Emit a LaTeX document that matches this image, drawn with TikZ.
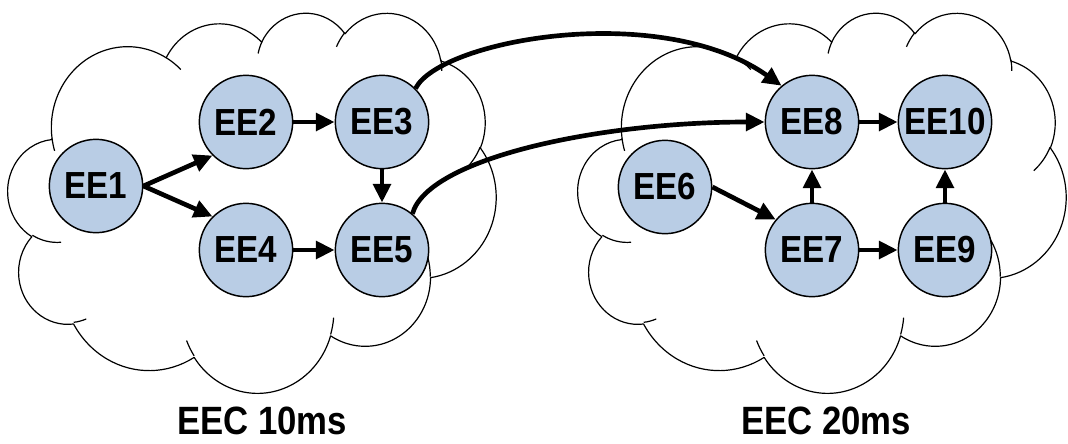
\documentclass[tikz,border=0pt]{standalone}
\usepackage{fontspec}
\newfontfamily\lblfont{Liberation Sans}[FakeStretch=0.88]
\usetikzlibrary{arrows.meta}
\definecolor{eefill}{HTML}{B9CDE5}
% PowerPoint-style cloud arcs (visual angles converted to parametric)
\newcommand\cldmk[5]{%
  \pgfmathsetmacro\cldS{atan2((#2)*sin(#4),(#3)*cos(#4))}%
  \pgfmathsetmacro\cldE{atan2((#2)*sin((#4)+(#5)),(#3)*cos((#4)+(#5)))}%
  \pgfmathsetmacro\cldE{\cldE<\cldS ? \cldE+360 : \cldE}%
  \expandafter\xdef\csname cldarc#1\endcsname{arc[start angle=\cldS, end angle=\cldE, x radius=#2, y radius=#3]}%
}
\cldmk{A}{67.53}{91.90}{-190.4875}{123.7805}
\cldmk{B}{53.33}{72.67}{-144.1024}{89.9452}
\cldmk{C}{43.65}{59.45}{-145.8079}{99.7230}
\cldmk{D}{48.57}{65.95}{-130.9861}{117.2417}
\cldmk{E}{53.33}{72.73}{-78.7089}{109.0269}
\cldmk{F}{67.75}{92.20}{-46.2673}{130.2690}
\cldmk{G}{57.85}{78.67}{0.6250}{114.0333}
\cldmk{H}{67.52}{92.15}{22.4516}{115.1726}
\cldmk{I}{77.20}{105.43}{66.2426}{75.7110}
\cldmk{J}{43.60}{59.18}{-274.9421}{146.7356}
\cldmk{K}{43.45}{59.45}{-246.8285}{152.5189}
\cldmk{a}{43.45}{59.45}{86.7420}{26.4295}
\cldmk{b}{43.60}{59.18}{73.6105}{11.4475}
\cldmk{c}{67.52}{92.15}{137.6242}{14.0811}
\cldmk{d}{67.52}{92.15}{6.4533}{15.9984}
\cldmk{e}{57.85}{78.67}{-70.2924}{70.9174}
\cldmk{f}{53.33}{72.73}{30.3180}{27.7515}
\cldmk{g}{48.57}{65.95}{-13.7443}{14.8589}
\cldmk{h}{48.57}{65.95}{-149.1815}{18.1954}
\cldmk{i}{43.65}{59.45}{-163.4943}{17.6864}
\cldmk{j}{67.53}{91.90}{-66.7070}{12.3194}
\cldmk{k}{67.53}{91.90}{157.6544}{11.8582}
\newcommand\cloudshape{%
  \draw[cloudline, fill=white] (39.00,143.70) \cldarcA \cldarcB \cldarcC \cldarcD
    \cldarcE \cldarcF \cldarcG \cldarcH \cldarcI \cldarcJ \cldarcK -- cycle;
  \draw[cloudline] (46.93,261.77) \cldarca;
  \draw[cloudline] (69.28,348.99) \cldarcb;
  \draw[cloudline] (164.78,390.90) \cldarcc;
  \draw[cloudline] (288.27,347.51) \cldarcd;
  \draw[cloudline] (341.29,229.54) \cldarce;
  \draw[cloudline] (417.98,153.54) \cldarcf;
  \draw[cloudline] (383.24,54.26) \cldarcg;
  \draw[cloudline] (290.78,39.52) \cldarch;
  \draw[cloudline] (221.41,47.20) \cldarci;
  \draw[cloudline] (140.00,51.92) \cldarcj;
  \draw[cloudline] (41.27,157.89) \cldarck;
}
\begin{document}
\begin{tikzpicture}[x=0.75pt, y=-0.75pt,
  cloudline/.style={draw=black, line width=0.9pt, line join=round},
  ee/.style={circle, draw=black, line width=1.1pt, fill=eefill, minimum size=70pt,
    inner sep=0pt, font=\lblfont\bfseries\fontsize{28.3}{30}\selectfont},
  lbl/.style={inner sep=0pt, font=\lblfont\bfseries\fontsize{29.6}{32}\selectfont},
  arr/.style={line width=3.5pt, -{Triangle[length=14pt, width=13pt]}}]
\useasboundingbox (0,0) rectangle (1068,443);
% clouds
\begin{scope}[shift={(8,12)}, xscale=488/432, yscale=380/432]
  \cloudshape
\end{scope}
\begin{scope}[shift={(578,12)}, xscale=488/432, yscale=380/432]
  \cloudshape
\end{scope}
% nodes
\node[ee] (EE1) at (96,186) {EE1};
\node[ee] (EE2) at (246,122) {EE2};
\node[ee] (EE3) at (382,122) {EE3};
\node[ee] (EE4) at (246,250) {EE4};
\node[ee] (EE5) at (382,250) {EE5};
\node[ee] (EE6) at (665,187) {EE6};
\node[ee] (EE8) at (812,122) {EE8};
\node[ee] (EE10) at (945,122) {EE10};
\node[ee] (EE7) at (812,250) {EE7};
\node[ee] (EE9) at (945,250) {EE9};
% arrows
\draw[arr] (EE1.east) -- (EE2.225);
\draw[arr] (EE1.east) -- (EE4.135);
\draw[arr] (EE2) -- (EE3);
\draw[arr] (EE4) -- (EE5);
\draw[arr] (EE3) -- (EE5);
\draw[arr] (EE6.east) -- (EE7.140);
\draw[arr] (EE7) -- (EE8);
\draw[arr] (EE9) -- (EE10);
\draw[arr] (EE8) -- (EE10);
\draw[arr] (EE7) -- (EE9);
\draw[arr] (EE3.45) .. controls (440,40) and (660,0) .. (EE8.130);
\draw[arr] (EE5.50) .. controls (428,158) and (600,122) .. (EE8.west);
% labels
\node[lbl, anchor=base] (L1) at (262,434) {EEC 10ms};
\node[lbl, anchor=base] (L2) at (826,434) {EEC 20ms};
\end{tikzpicture}
\end{document}
